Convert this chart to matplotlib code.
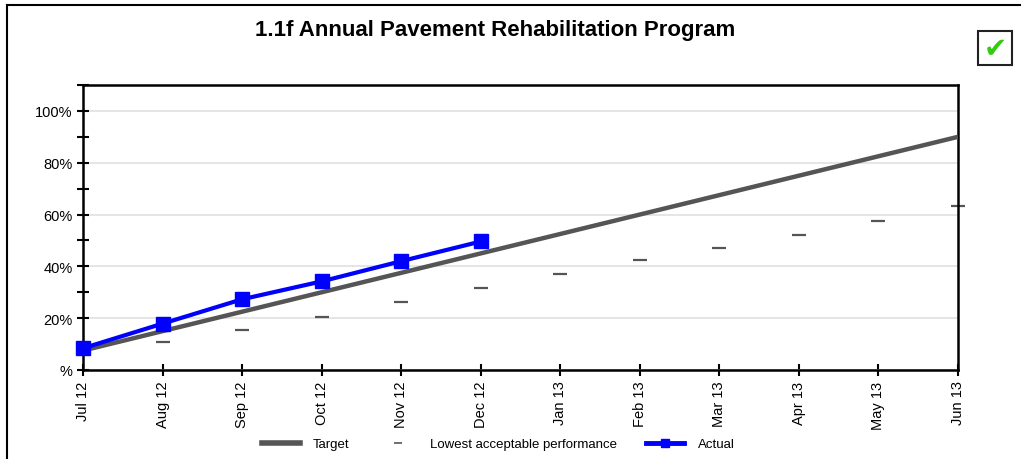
import numpy as np
import matplotlib
matplotlib.use('Agg')
import matplotlib.pyplot as plt
from matplotlib.lines import Line2D
from matplotlib.patches import Rectangle

plt.rcParams['font.family'] = ['Liberation Sans', 'DejaVu Sans']

# donnees
mois = ['Jul 12', 'Aug 12', 'Sep 12', 'Oct 12', 'Nov 12', 'Dec 12',
        'Jan 13', 'Feb 13', 'Mar 13', 'Apr 13', 'May 13', 'Jun 13']
target = [7.5, 15, 22.5, 30, 37.5, 45, 52.5, 60, 67.5, 75, 82.5, 90]
lowest = [np.nan, 10.8, 15.3, 20.6, 26.2, 31.6, 37.0, 42.4, 46.9, 52.2, 57.7, 63.2]
actual = [8.4, 17.9, 27.3, 34.2, 42.0, 49.6]

fig = plt.figure(figsize=(10.21, 4.6), dpi=100)
ax = fig.add_axes([83/1021, 1-371/460, 875/1021, 285/460])

x = np.arange(len(mois))

ax.plot(x, target, color='#555555', lw=3.2, zorder=3, solid_capstyle='butt')
ax.plot(x, lowest, ls='none', marker='_', markersize=10, mew=1.6, color='#555555', zorder=2, clip_on=False)
ax.plot(x[:len(actual)], actual, color='#0000ff', lw=3, marker='s', markersize=10.5, zorder=4, clip_on=False)

ax.set_xlim(0, len(mois)-1)
ax.set_ylim(0, 110)
ax.set_yticks([0, 20, 40, 60, 80, 100])
ax.set_yticklabels(['%', '20%', '40%', '60%', '80%', '100%'], fontsize=10.5)
ax.set_yticks([10, 30, 50, 70, 90, 110], minor=True)
ax.set_xticks(x)
ax.set_xticklabels(mois, rotation=90, fontsize=10.5)
ax.tick_params(axis='both', which='both', direction='inout', length=9, width=1.5, pad=3)
ax.grid(axis='y', color='#e0e0e0', lw=1.2, zorder=0)
ax.set_axisbelow(True)
for s in ax.spines.values():
    s.set_linewidth(1.8)

# legende en bas
handles = [Line2D([], [], color='#555555', lw=4),
           Line2D([], [], ls='none', marker='_', markersize=6, mew=1.2, color='#555555'),
           Line2D([], [], color='#0000ff', lw=3.5, marker='s', markersize=6)]
fig.legend(handles, ['Target', 'Lowest acceptable performance', 'Actual'],
           loc='center', bbox_to_anchor=(498/1021, 1-445/460), ncol=3, frameon=False,
           fontsize=9.5, handlelength=2.9, columnspacing=2.2, handletextpad=1.0)

fig.text(495/1021, 1-31/460, '1.1f Annual Pavement Rehabilitation Program',
         ha='center', va='center', fontsize=16, fontweight='bold')

# case cochee en haut a droite
fig.add_artist(Rectangle((978/1021, 1-66/460), 34/1021, 34/460, transform=fig.transFigure,
                         facecolor='white', edgecolor='#222222', lw=1.5))
fig.text(995/1021, 1-49/460, '\u2714', ha='center', va='center', fontsize=20,
         color='#33cc11', family='DejaVu Sans')

# bordure gauche et haut
fig.add_artist(Line2D([6.5/1021, 6.5/1021], [0, 1-6/460], transform=fig.transFigure, color='black', lw=1.5))
fig.add_artist(Line2D([6.5/1021, 1], [1-6/460, 1-6/460], transform=fig.transFigure, color='black', lw=1.5))

fig.savefig('out.png', dpi=100)
